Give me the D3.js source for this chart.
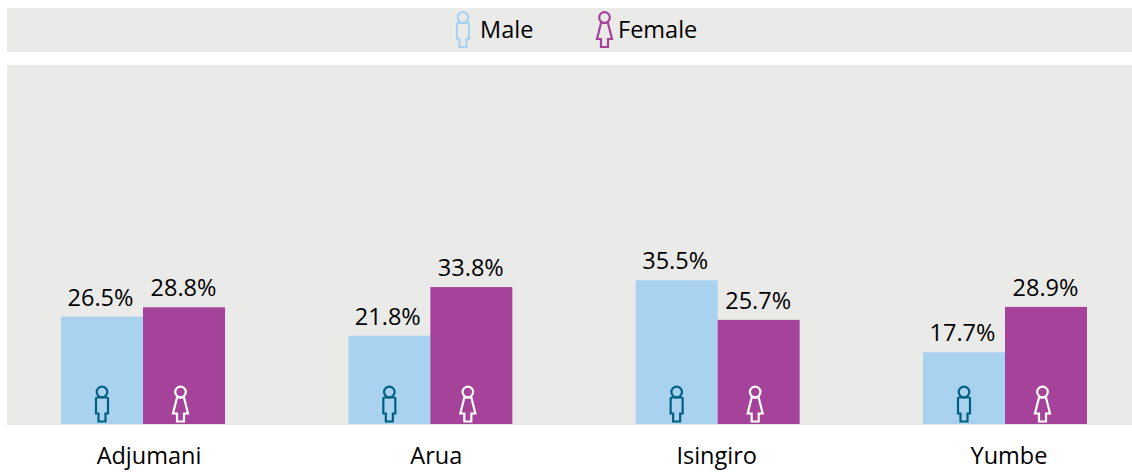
<!DOCTYPE html>
<html><head><meta charset="utf-8">
<script src="https://cdn.jsdelivr.net/npm/d3@7"></script>
<style>html,body{margin:0;padding:0;background:#fff}svg{display:block}text{font-family:"Open Sans",sans-serif;fill:#000}</style>
</head><body><div id="c"></div>
<script>
const categories = ["Adjumani","Arua","Isingiro","Yumbe"];
const seriesNames = ["Male","Female"];
const maleValues = [26.5,21.8,35.5,17.7];
const femaleValues = [28.8,33.8,25.7,28.9];
const colors = {Male:"#A9D2F1",Female:"#A44399"};
const W=1132,H=473;
const svg=d3.select("#c").append("svg").attr("width",W).attr("height",H);
const bg="#EAEAE8";
svg.append("rect").attr("x",7).attr("y",8).attr("width",W-7).attr("height",44).attr("fill",bg);
svg.append("rect").attr("x",7).attr("y",65).attr("width",W-7).attr("height",360).attr("fill",bg);
const x=d3.scaleBand().domain(categories).range([61,1087]).paddingInner(0.4292).paddingOuter(0);
const x1=d3.scaleBand().domain(seriesNames).range([0,x.bandwidth()]);
const y=d3.scaleLinear().domain([0,88.6]).range([424,65]);
const fmt=d=>d.toFixed(1)+"%";
const FS=23.5;
function icon(g,kind,stroke){
  g.attr("fill","none").attr("stroke",stroke).attr("stroke-width",2.2).attr("stroke-linejoin","miter");
  g.append("circle").attr("cx",0).attr("cy",-30.5).attr("r",5.3);
  if(kind==="Male"){
    g.append("path").attr("d","M-5,-25 L5,-25 Q6,-25 6,-24 L6,-9 L3.5,-9 L3.5,-1 L-3.5,-1 L-3.5,-9 L-6,-9 L-6,-24 Q-6,-25 -5,-25 Z");
  } else {
    g.append("path").attr("d","M-3.5,-25 L3.5,-25 L7.5,-9 L3.5,-9 L3.5,-1 L-3.5,-1 L-3.5,-9 L-7.5,-9 Z");
  }
}
const data=categories.map((c,i)=>({c,Male:maleValues[i],Female:femaleValues[i]}));
const groups=svg.selectAll("g.cat").data(data).join("g").attr("class","cat").attr("transform",d=>`translate(${x(d.c)},0)`);
seriesNames.forEach(s=>{
  groups.append("rect").attr("x",x1(s)).attr("width",x1.bandwidth())
    .attr("y",d=>y(d[s])).attr("height",d=>y(0)-y(d[s])).attr("fill",colors[s]);
  groups.append("text").attr("x",x1(s)+x1.bandwidth()/2-(s==="Male"?1.5:0.5)).attr("y",d=>y(d[s])-11)
    .attr("text-anchor","middle").attr("font-size",FS).text(d=>fmt(d[s]));
  groups.each(function(){
    const off=s==="Male"?0:-3.5;
    const g=d3.select(this).append("g").attr("transform",`translate(${x1(s)+x1.bandwidth()/2+off},${y(0)-1.5})`);
    icon(g,s,s==="Male"?"#00607F":"#fff");
  });
});
const labelNudge=[6,6,-1,4];
svg.selectAll("text.cat").data(categories).join("text").attr("class","cat")
  .attr("x",(d,i)=>x(d)+x.bandwidth()/2+labelNudge[i]).attr("y",464).attr("text-anchor","middle").attr("font-size",FS).text(d=>d);
// legend
const lg=[{s:"Male",ix:463,tx:480},{s:"Female",ix:604.5,tx:618}];
lg.forEach(l=>{
  icon(svg.append("g").attr("transform",`translate(${l.ix},48)`),l.s,colors[l.s]);
  svg.append("text").attr("x",l.tx).attr("y",38).attr("font-size",FS).text(l.s);
});
</script></body></html>
